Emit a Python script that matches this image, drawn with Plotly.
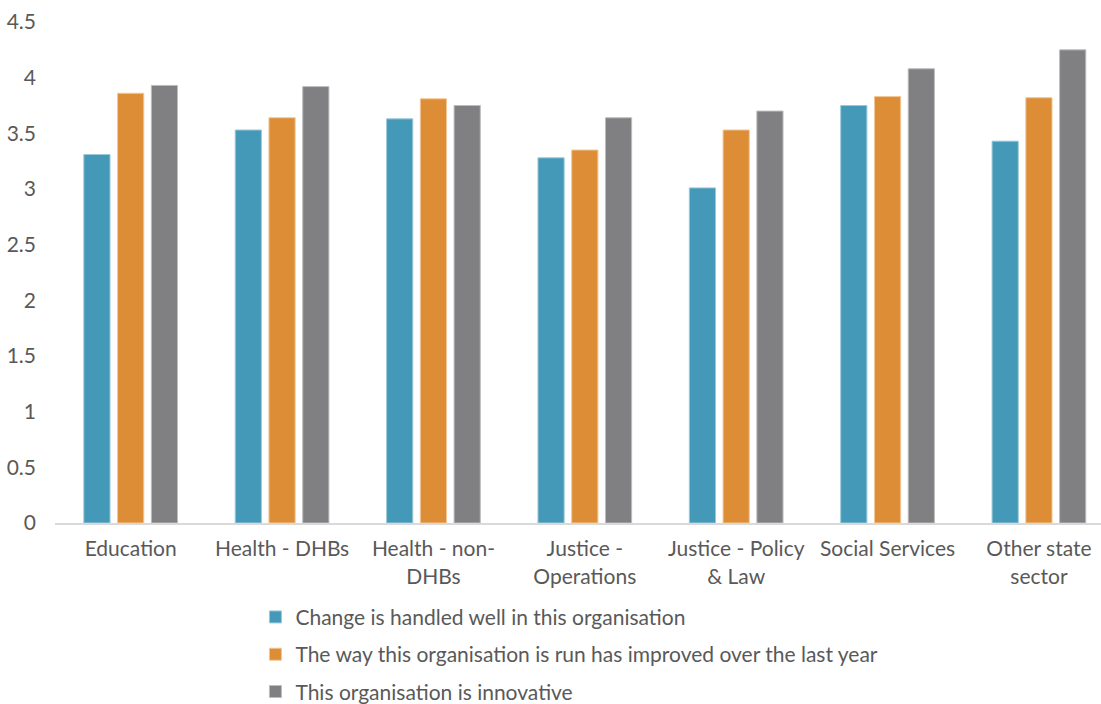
import plotly.graph_objects as go

categories = [
    "Education",
    "Health - DHBs",
    "Health - non-<br>DHBs",
    "Justice -<br>Operations",
    "Justice - Policy<br>& Law",
    "Social Services",
    "Other state<br>sector",
]

change_handled_well = [3.31, 3.53, 3.63, 3.28, 3.01, 3.75, 3.43]
run_improved = [3.86, 3.64, 3.81, 3.35, 3.53, 3.83, 3.82]
innovative = [3.93, 3.92, 3.75, 3.64, 3.70, 4.08, 4.25]

series = [
    ("Change is handled well in this organisation", change_handled_well, "#4499B8", "#9cc8d8"),
    ("The way this organisation is run has improved over the last year", run_improved, "#DC8D35", "#f0c796"),
    ("This organisation is innovative", innovative, "#808083", "#bdbdbf"),
]

font_family = "Lato, 'Open Sans', sans-serif"
text_color = "#595959"
font_size = 21

fig = go.Figure()
for i, (name, values, color, edge) in enumerate(series):
    fig.add_trace(
        go.Bar(
            x=categories,
            y=values,
            name=name,
            legendgroup=f"g{i}",
            marker=dict(color=color, line=dict(color=edge, width=1)),
        )
    )

fig.update_layout(
    width=1101,
    height=704,
    paper_bgcolor="white",
    plot_bgcolor="white",
    barmode="group",
    bargap=0.331,
    bargroupgap=0.224,
    margin=dict(l=55, r=0, t=22, b=181, autoexpand=False),
    font=dict(family=font_family, size=font_size, color=text_color),
    showlegend=True,
    legend=dict(
        orientation="v",
        xref="container",
        yref="container",
        x=0.232,
        xanchor="left",
        y=0.1523,
        yanchor="top",
        tracegroupgap=7,
        itemwidth=30,
        font=dict(size=font_size, color=text_color),
        bgcolor="rgba(0,0,0,0)",
    ),
    xaxis=dict(
        range=[-0.5, 6.41],
        showline=True,
        linecolor="#d9d9d9",
        linewidth=2,
        ticks="",
        showgrid=False,
        ticklabelstandoff=6,
        tickfont=dict(size=font_size, color=text_color),
    ),
    yaxis=dict(
        range=[0, 4.5],
        tickvals=[0, 0.5, 1, 1.5, 2, 2.5, 3, 3.5, 4, 4.5],
        ticktext=["0", "0.5", "1", "1.5", "2", "2.5", "3", "3.5", "4", "4.5"],
        showgrid=False,
        zeroline=False,
        showline=False,
        ticklabelstandoff=18,
        tickfont=dict(size=font_size, color=text_color),
    ),
)

fig.write_html("out.html")
